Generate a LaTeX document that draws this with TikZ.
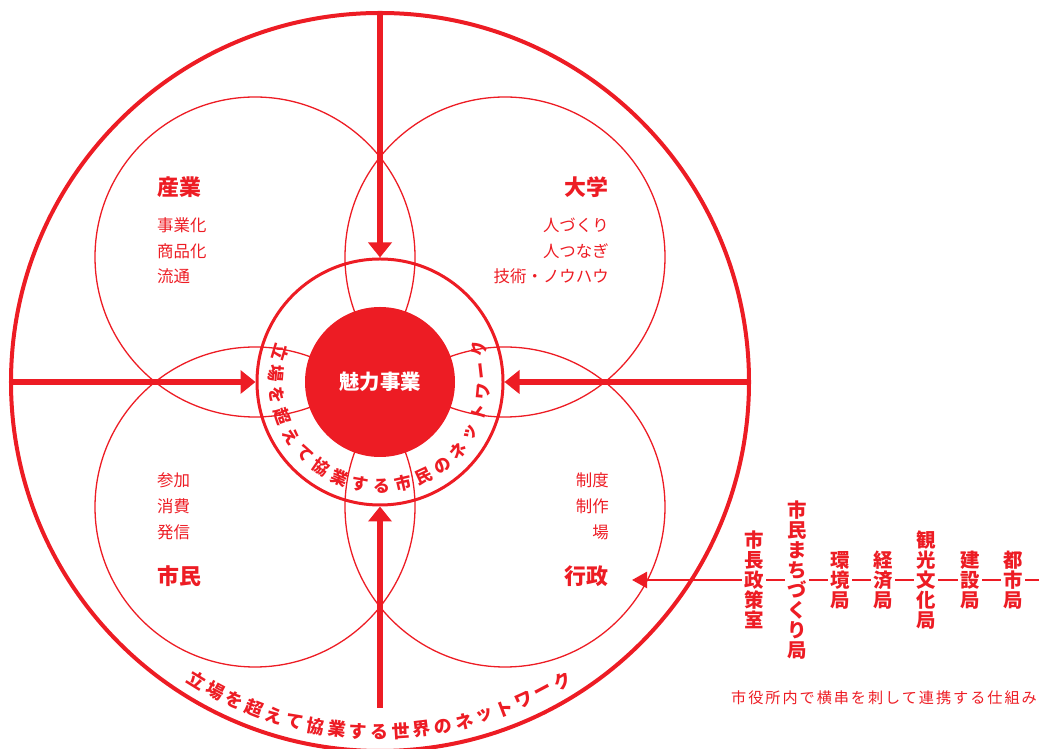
\documentclass[tikz,border=0pt]{standalone}
\usepackage{fontspec}
\setmainfont{Noto Sans CJK JP}
\usetikzlibrary{arrows.meta}
\definecolor{rouge}{HTML}{ED1C24}
\tikzset{
  petal/.style={circle, draw=rouge, line width=1.3bp, minimum size=320bp, inner sep=0pt},
  flow/.style={color=rouge, line width=5.5bp, -{Triangle[length=15bp,width=23bp]}},
  title/.style={text=rouge, inner sep=0pt, font=\bfseries\fontsize{22}{22}\selectfont},
  item/.style={text=rouge, inner sep=0pt, font=\fontsize{16.5}{16.5}\selectfont},
  ringchar/.style={text=rouge, inner sep=0pt, font=\bfseries\fontsize{17}{17}\selectfont},
  dept/.style={fill=white, text=rouge, inner xsep=2.5bp, inner ysep=0pt, align=center,
    font=\bfseries\fontsize{19.5}{20}\selectfont},
}
\begin{document}
\begin{tikzpicture}[x=1bp, y=1bp]
        \useasboundingbox (0,0) rectangle (1039,749);

        \node[circle, draw=rouge, line width=4bp, minimum size=738bp, inner sep=0pt] (world) at (380,367) {};

        \begin{scope}[every node/.style={petal}]
          \node (ind) at (255,492) {};
          \node (uni) at (505,492) {};
          \node (cit) at (255,242) {};
          \node (adm) at (505,242) {};
        \end{scope}

        \node[circle, draw=rouge, line width=3bp, minimum size=246bp, inner sep=0pt] (ring) at (380,367) {};
        \coordinate (s) at (380,41);
        \draw[flow] (world.north) -- (ring.north);
        \draw[flow] (world.west) -- (ring.west);
        \draw[flow] (world.east) -- (ring.east);
        \draw[flow] (s) -- (ring.south);

        \node[circle, fill=rouge, minimum size=150bp, inner sep=0pt, text=white,
          font=\bfseries\fontsize{20.5}{20.5}\selectfont] (core) at (380,367) {魅力事業};

        % texts along the two rings, one character at a time
        \begin{scope}[shift={(380,367)}, every node/.style={ringchar}]
          \foreach \ch [count=\i from 0] in {立,場,を,超,え,て,協,業,す,る,市,民,の,ネ,ッ,ト,ワ,ー,ク}
            \node[rotate={163.6+\i*11.94+90}] (in\i) at ({163.6+\i*11.94}:104) {\ch};
          \foreach \ch [count=\i from 0] in {立,場,を,超,え,て,協,業,す,る,世,界,の,ネ,ッ,ト,ワ,ー,ク}
            \node[rotate={238.4+\i*3.5+90}, font=\bfseries\fontsize{18}{18}\selectfont] (out\i) at ({238.4+\i*3.5}:350) {\ch};
        \end{scope}

        \begin{scope}[every node/.style={title}]
          \node[anchor=west] (sangyo) at (157,562) {産業};
          \node[anchor=east] (daigaku) at (609,562) {大学};
          \node[anchor=west] (shimin) at (157,173) {市民};
          \node[anchor=east] (gyosei) at (609,173) {行政};
        \end{scope}

        \begin{scope}[every node/.style={item}]
          \node[anchor=west] (i1) at (157,524) {事業化};
          \node[anchor=west] (i2) at (157,498) {商品化};
          \node[anchor=west] (i3) at (157,473) {流通};
          \node[anchor=east] (u1) at (609,524) {人づくり};
          \node[anchor=east] (u2) at (609,498) {人つなぎ};
          \node[anchor=east] (u3) at (609,473) {技術・ノウハウ};
          \node[anchor=west] (c1) at (157,269) {参加};
          \node[anchor=west] (c2) at (157,243) {消費};
          \node[anchor=west] (c3) at (157,217) {発信};
          \node[anchor=east] (a1) at (609,269) {制度};
          \node[anchor=east] (a2) at (609,243) {制作};
          \node[anchor=east] (a3) at (609,217) {場};
          \node[anchor=west, font=\fontsize{15.2}{15.2}\selectfont\addfontfeature{LetterSpace=13}] (note) at (731,51)
            {市役所内で横串を刺して連携する仕組み};
        \end{scope}

        \begin{scope}[every node/.style={dept}]
          \node (1) at (754,169) {市\\長\\政\\策\\室};
          \node (2) at (797,169) {市\\民\\ま\\ち\\づ\\く\\り\\局};
          \node (3) at (840,169) {環\\境\\局};
          \node (4) at (883,169) {経\\済\\局};
          \node (5) at (926,169) {観\\光\\文\\化\\局};
          \node (6) at (970,169) {建\\設\\局};
          \node (7) at (1013,169) {都\\市\\局};
        \end{scope}
        \coordinate (feed) at (1039,169);
        \coordinate (tip) at (632,169);

        \begin{scope}[every edge/.style={draw, color=rouge, line width=2.5bp}]
          \path (feed) edge (7);
          \path (7) edge (6);
          \path (6) edge (5);
          \path (5) edge (4);
          \path (4) edge (3);
          \path (3) edge (2);
          \path (2) edge (1);
          \path (1) edge[-{Triangle[length=15bp,width=16bp]}] (tip);
        \end{scope}

      \end{tikzpicture}
\end{document}
